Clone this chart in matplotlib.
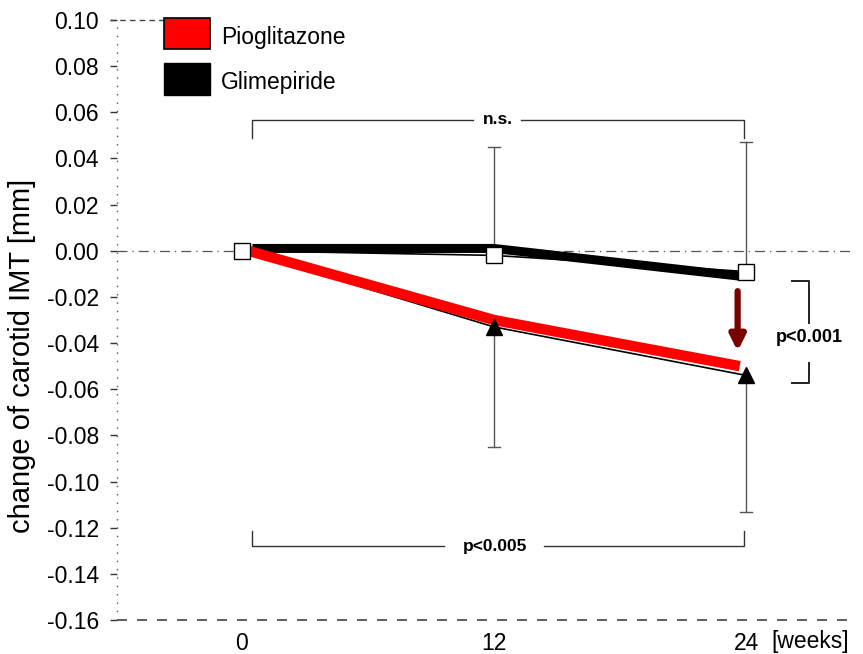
import matplotlib
matplotlib.use("Agg")
import matplotlib.pyplot as plt
import numpy as np
from matplotlib.patches import Rectangle

plt.rcParams['font.family'] = ['Liberation Sans', 'DejaVu Sans']
plt.rcParams['axes.unicode_minus'] = False

# ---- data ----
weeks = [0, 12, 24]
week_labels = ["0", "12", "24"]
pio_mean = [0.000, -0.033, -0.054]
glim_mean = [0.000, -0.002, -0.009]
pio_line = [0.000, -0.030, -0.050]      # highlighted (thick) curve
glim_line = [0.001, 0.001, -0.011]      # highlighted (thick) curve
err_weeks = [12, 24]
glim_err_top = [0.045, 0.047]
pio_err_bottom = [-0.085, -0.113]
yticks = [0.10, 0.08, 0.06, 0.04, 0.02, 0.00, -0.02, -0.04, -0.06, -0.08,
          -0.10, -0.12, -0.14, -0.16]

fig = plt.figure(figsize=(8.63, 6.54), dpi=100)
ax = fig.add_axes([117/863, 34/654, (850-117)/863, 600/654])
ax.set_xlim(-5.95, 28.95)
ax.set_ylim(-0.16, 0.10)

for s in ax.spines.values():
    s.set_visible(False)
# faded axis lines
ax.plot([-5.95, -5.95], [-0.16, 0.10], color='#555555', lw=1.0, ls=(0, (1, 5)), clip_on=False)
ax.plot([-5.95, 28.95], [-0.16, -0.16], color='#444444', lw=1.2, ls=(0, (6, 6)), clip_on=False)
ax.plot([-6.3, -3.6], [0.10, 0.10], color='#444444', lw=1.0, ls=(0, (4, 3)), clip_on=False)
# zero reference line
ax.axhline(0, color='#555555', lw=0.9, ls=(0, (8, 4, 1, 4)), zorder=1)

# error bars
for x, top, m in zip(err_weeks, glim_err_top, glim_mean[1:]):
    ax.plot([x, x], [m, top], color='#555555', lw=1.0, zorder=2)
    ax.plot([x - 0.3, x + 0.3], [top, top], color='#555555', lw=1.0, zorder=2)
for x, bot, m in zip(err_weeks, pio_err_bottom, pio_mean[1:]):
    ax.plot([x, x], [m, bot], color='#555555', lw=1.0, zorder=2)
    ax.plot([x - 0.3, x + 0.3], [bot, bot], color='#555555', lw=1.0, zorder=2)

# thin original lines
ax.plot(weeks, pio_mean, color='black', lw=1.2, zorder=3)
ax.plot(weeks, glim_mean, color='black', lw=1.2, zorder=3)
# thick highlighted lines
ax.plot([0.5, 12, 23.7], glim_line, color='black', lw=6.5, solid_capstyle='butt', zorder=4)
ax.plot([0.3, 12, 23.7], pio_line, color='#ff0000', lw=7.5, solid_capstyle='butt', zorder=4)

# markers
ax.plot(weeks[1:], pio_mean[1:], ls='none', marker='^', ms=11, color='black', zorder=5)
ax.plot(weeks, glim_mean, ls='none', marker='s', ms=11, mfc='white', mec='black', mew=1.0, zorder=6)

# dark red arrow
ax.annotate('', xy=(23.6, -0.0435), xytext=(23.6, -0.0175),
            arrowprops=dict(arrowstyle='-|>,head_width=0.45,head_length=0.9',
                            color='#7a0000', lw=4.5, shrinkA=0, shrinkB=0), zorder=6)

# n.s. bracket
yb = 0.0567
ax.plot([0.5, 0.5, 11.0], [0.049, yb, yb], color='#333333', lw=1.0)
ax.plot([13.3, 23.9, 23.9], [yb, yb, 0.049], color='#333333', lw=1.0)
ax.text(12.2, yb, 'n.s.', ha='center', va='center', fontsize=12.5, fontweight='bold')

# p<0.005 bracket
yb2 = -0.128
ax.plot([0.5, 0.5, 9.6], [-0.1215, yb2, yb2], color='#333333', lw=1.0)
ax.plot([14.4, 23.9, 23.9], [yb2, yb2, -0.1215], color='#333333', lw=1.0)
ax.text(12.05, yb2, 'p<0.005', ha='center', va='center', fontsize=12.5, fontweight='bold')

# p<0.001 bracket (right)
xr = 27.0
ax.plot([26.2, xr, xr], [-0.0133, -0.0133, -0.0315], color='#222222', lw=1.4, clip_on=False)
ax.plot([xr, xr, 26.2], [-0.0485, -0.0575, -0.0575], color='#222222', lw=1.4, clip_on=False)
ax.text(27.0, -0.0375, 'p<0.001', ha='center', va='center', fontsize=13, fontweight='bold')

# legend boxes
ax.add_patch(Rectangle((-3.7, 0.0874), 2.2, 0.0134, facecolor='#ff0000', edgecolor='black', lw=1.2, zorder=7, clip_on=False))
ax.add_patch(Rectangle((-3.7, 0.0675), 2.2, 0.0139, facecolor='black', edgecolor='black', lw=1.0, zorder=7, clip_on=False))
ax.text(-1.0, 0.0925, 'Pioglitazone', ha='left', va='center', fontsize=16.5)
ax.text(-1.0, 0.0730, 'Glimepiride', ha='left', va='center', fontsize=16.5)

# ticks
ax.set_yticks(yticks)
ax.set_yticklabels([f"{v:.2f}" for v in yticks], fontsize=16.5)
ax.tick_params(axis='y', length=5, width=1, color='#333333', pad=8)
ax.set_xticks(weeks)
ax.set_xticklabels(week_labels, fontsize=16.5)
ax.tick_params(axis='x', length=0, pad=9)
ax.text(27.05, -0.1645, '[weeks]', ha='center', va='top', fontsize=16.5, clip_on=False)

fig.text(22/863, 1 - 356/654, 'change of carotid IMT [mm]', rotation=90,
         ha='center', va='center', fontsize=21)

fig.savefig('out.png', dpi=100)
